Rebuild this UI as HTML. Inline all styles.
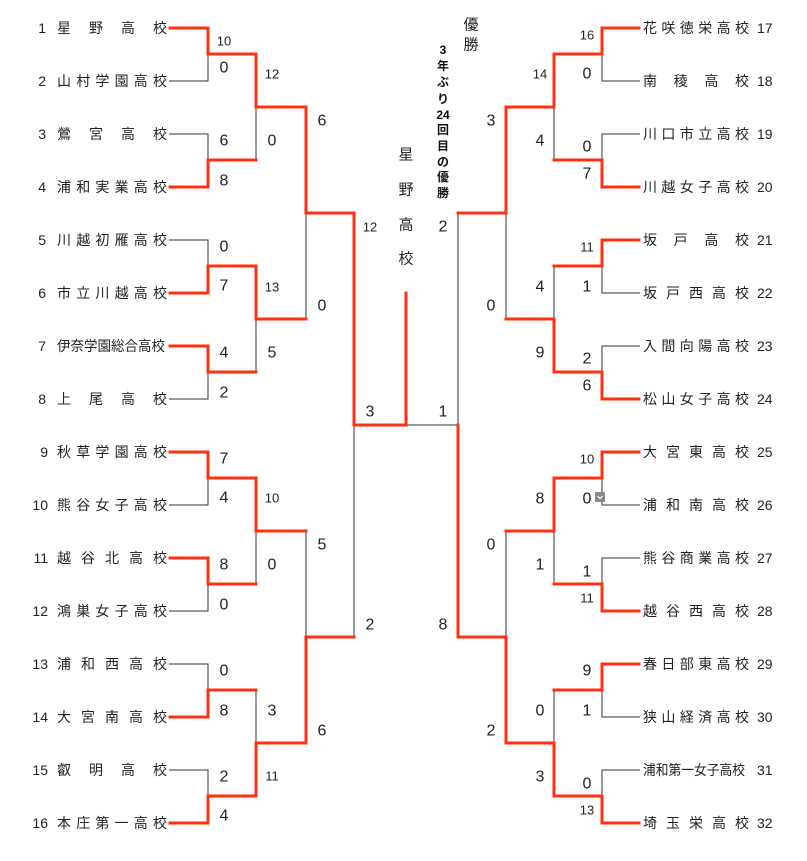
<!DOCTYPE html>
<html><head><meta charset="utf-8"><style>
html,body{margin:0;padding:0;background:#fff;}
svg{display:block;font-family:"Liberation Sans","Noto Sans CJK JP",sans-serif;}
.t{font-size:14px;fill:#222;}
.s{font-size:16px;fill:#222;text-anchor:middle;dominant-baseline:central;}
.m{font-size:13px;fill:#222;text-anchor:middle;dominant-baseline:central;}
.b{fill:none;stroke:#333;stroke-width:1;}
.r{fill:none;stroke:#ff3010;stroke-width:3;stroke-linejoin:miter;stroke-linecap:square;}
</style></head><body>
<svg width="807" height="861" viewBox="0 0 807 861" xmlns="http://www.w3.org/2000/svg">
<g class="b">
<path d="M169 28H208V81H169 M169 134H208V187H169 M169 240H208V293H169 M169 346H208V399H169 M169 452H208V505H169 M169 558H208V611H169 M169 664H208V717H169 M169 770H208V823H169"/>
<path d="M208 54H256V160H208 M208 266H256V372H208 M208 478H256V584H208 M208 690H256V796H208"/>
<path d="M256 107H306V319H256 M256 531H306V743H256"/>
<path d="M306 213H354V637H306"/>
<path d="M354 425H458"/>
<path d="M640 28H602V81H640 M640 134H602V187H640 M640 240H602V293H640 M640 346H602V399H640 M640 452H602V505H640 M640 558H602V611H640 M640 664H602V717H640 M640 770H602V823H640"/>
<path d="M602 54H554V160H602 M602 266H554V372H602 M602 478H554V584H602 M602 690H554V796H602"/>
<path d="M554 107H506V319H554 M554 531H506V743H554"/>
<path d="M506 213H458V637H506"/>
</g>
<g class="r">
<path d="M170 28H208V54H256V107H306V213H354V425H406V293"/>
<path d="M170 187H208V160H256"/>
<path d="M170 293H208V266H256V319H306"/>
<path d="M170 346H208V372H256"/>
<path d="M170 452H208V478H256V531H306"/>
<path d="M170 558H208V584H256"/>
<path d="M170 717H208V690H256"/>
<path d="M170 823H208V796H256V743H306V637H354"/>
<path d="M639 28H602V54H554V107H506V213H458"/>
<path d="M639 187H602V160H554"/>
<path d="M639 240H602V266H554"/>
<path d="M639 399H602V372H554V319H506"/>
<path d="M639 452H602V478H554V531H506"/>
<path d="M639 611H602V584H554"/>
<path d="M639 664H602V690H554"/>
<path d="M639 823H602V796H554V743H506V637H458V425"/>
</g>
<rect x="595" y="492" width="10" height="10" rx="1" fill="#888"/>
<path d="M597.5 496l2.5 2.5 2.5-2.5" fill="none" stroke="#fff" stroke-width="1.2"/>
<g class="t">
<g text-anchor="end">
<text x="46" y="33">1</text><text x="46" y="86">2</text><text x="46" y="139">3</text><text x="46" y="192">4</text>
<text x="46" y="245">5</text><text x="46" y="298">6</text><text x="46" y="351">7</text><text x="46" y="404">8</text>
<text x="48" y="457">9</text><text x="48" y="510">10</text><text x="48" y="563">11</text><text x="48" y="616">12</text>
<text x="48" y="669">13</text><text x="48" y="722">14</text><text x="48" y="775">15</text><text x="48" y="828">16</text>
</g>
<text x="57" y="33" textLength="110" lengthAdjust="spacing">星　野　高　校</text>
<text x="57" y="86" textLength="110" lengthAdjust="spacing">山村学園高校</text>
<text x="57" y="139" textLength="110" lengthAdjust="spacing">鶯　宮　高　校</text>
<text x="57" y="192" textLength="110" lengthAdjust="spacing">浦和実業高校</text>
<text x="57" y="245" textLength="110" lengthAdjust="spacing">川越初雁高校</text>
<text x="57" y="298" textLength="110" lengthAdjust="spacing">市立川越高校</text>
<text x="57" y="351" textLength="108" lengthAdjust="spacingAndGlyphs">伊奈学園総合高校</text>
<text x="57" y="404" textLength="110" lengthAdjust="spacing">上　尾　高　校</text>
<text x="57" y="457" textLength="110" lengthAdjust="spacing">秋草学園高校</text>
<text x="57" y="510" textLength="110" lengthAdjust="spacing">熊谷女子高校</text>
<text x="57" y="563" textLength="110" lengthAdjust="spacing">越谷北高校</text>
<text x="57" y="616" textLength="110" lengthAdjust="spacing">鴻巣女子高校</text>
<text x="57" y="669" textLength="110" lengthAdjust="spacing">浦和西高校</text>
<text x="57" y="722" textLength="110" lengthAdjust="spacing">大宮南高校</text>
<text x="57" y="775" textLength="110" lengthAdjust="spacing">叡　明　高　校</text>
<text x="57" y="828" textLength="110" lengthAdjust="spacing">本庄第一高校</text>
<text x="643" y="33" textLength="106" lengthAdjust="spacing">花咲徳栄高校</text>
<text x="643" y="86" textLength="106" lengthAdjust="spacing">南　稜　高　校</text>
<text x="643" y="139" textLength="106" lengthAdjust="spacing">川口市立高校</text>
<text x="643" y="192" textLength="106" lengthAdjust="spacing">川越女子高校</text>
<text x="643" y="245" textLength="106" lengthAdjust="spacing">坂　戸　高　校</text>
<text x="643" y="298" textLength="106" lengthAdjust="spacing">坂戸西高校</text>
<text x="643" y="351" textLength="106" lengthAdjust="spacing">入間向陽高校</text>
<text x="643" y="404" textLength="106" lengthAdjust="spacing">松山女子高校</text>
<text x="643" y="457" textLength="106" lengthAdjust="spacing">大宮東高校</text>
<text x="643" y="510" textLength="106" lengthAdjust="spacing">浦和南高校</text>
<text x="643" y="563" textLength="106" lengthAdjust="spacing">熊谷商業高校</text>
<text x="643" y="616" textLength="106" lengthAdjust="spacing">越谷西高校</text>
<text x="643" y="669" textLength="106" lengthAdjust="spacing">春日部東高校</text>
<text x="643" y="722" textLength="106" lengthAdjust="spacing">狭山経済高校</text>
<text x="643" y="775" textLength="102" lengthAdjust="spacingAndGlyphs">浦和第一女子高校</text>
<text x="643" y="828" textLength="106" lengthAdjust="spacing">埼　玉　栄　高　校</text>
<text x="757" y="33">17</text><text x="757" y="86">18</text><text x="757" y="139">19</text><text x="757" y="192">20</text>
<text x="757" y="245">21</text><text x="757" y="298">22</text><text x="757" y="351">23</text><text x="757" y="404">24</text>
<text x="757" y="457">25</text><text x="757" y="510">26</text><text x="757" y="563">27</text><text x="757" y="616">28</text>
<text x="757" y="669">29</text><text x="757" y="722">30</text><text x="757" y="775">31</text><text x="757" y="828">32</text>
</g>
<text class="m" x="224" y="41">10</text><text class="s" x="224" y="68">0</text>
<text class="s" x="224" y="141">6</text><text class="s" x="224" y="181">8</text>
<text class="s" x="224" y="247">0</text><text class="s" x="224" y="286">7</text>
<text class="s" x="224" y="353">4</text><text class="s" x="224" y="393">2</text>
<text class="m" x="272" y="74">12</text><text class="s" x="272" y="141">0</text>
<text class="m" x="272" y="287">13</text><text class="s" x="272" y="353">5</text>
<text class="s" x="322" y="121">6</text><text class="s" x="322" y="306">0</text>
<text class="m" x="370" y="227">12</text><text class="s" x="370" y="412">3</text>
<text class="s" x="224" y="459">7</text><text class="s" x="224" y="498">4</text>
<text class="m" x="272" y="498">10</text><text class="s" x="224" y="565">8</text>
<text class="s" x="272" y="565">0</text><text class="s" x="224" y="605">0</text>
<text class="s" x="322" y="545">5</text><text class="s" x="224" y="671">0</text>
<text class="s" x="224" y="711">8</text><text class="s" x="272" y="711">3</text>
<text class="s" x="224" y="777">2</text><text class="m" x="272" y="776">11</text>
<text class="s" x="224" y="816">4</text><text class="s" x="322" y="731">6</text>
<text class="s" x="370" y="625">2</text>
<text class="s" x="443" y="412">1</text><text class="s" x="443" y="227">2</text><text class="s" x="443" y="625">8</text>
<g style="font-size:15px;fill:#222;text-anchor:middle;dominant-baseline:central">
<text x="406" y="155">星</text><text x="406" y="190">野</text><text x="406" y="225">高</text><text x="406" y="259">校</text>
<text x="471" y="25">優</text><text x="471" y="45">勝</text>
</g>
<g style="font-size:12px;font-weight:bold;fill:#111;text-anchor:middle;dominant-baseline:central">
<text x="443" y="50">3</text><text x="443" y="66">年</text><text x="443" y="82">ぶ</text><text x="443" y="99">り</text>
<text x="443" y="115">24</text><text x="443" y="130">回</text><text x="443" y="146">目</text><text x="443" y="162">の</text>
<text x="443" y="177">優</text><text x="443" y="193">勝</text>
</g>
<text class="m" x="587" y="35">16</text><text class="s" x="587" y="74">0</text>
<text class="m" x="540" y="74">14</text><text class="s" x="491" y="121">3</text>
<text class="s" x="540" y="141">4</text><text class="s" x="587" y="147">0</text>
<text class="s" x="587" y="174">7</text>
<text class="m" x="587" y="247">11</text><text class="s" x="587" y="287">1</text>
<text class="s" x="540" y="287">4</text><text class="s" x="491" y="306">0</text>
<text class="s" x="540" y="353">9</text><text class="s" x="587" y="359">2</text>
<text class="s" x="587" y="386">6</text>
<text class="m" x="587" y="459">10</text><text class="s" x="587" y="499">0</text>
<text class="s" x="540" y="499">8</text><text class="s" x="491" y="545">0</text>
<text class="s" x="540" y="565">1</text><text class="s" x="587" y="572">1</text>
<text class="m" x="587" y="598">11</text>
<text class="s" x="587" y="671">9</text><text class="s" x="587" y="711">1</text>
<text class="s" x="540" y="711">0</text><text class="s" x="491" y="731">2</text>
<text class="s" x="540" y="777">3</text><text class="s" x="587" y="784">0</text>
<text class="m" x="587" y="810">13</text>
</svg>
</body></html>
